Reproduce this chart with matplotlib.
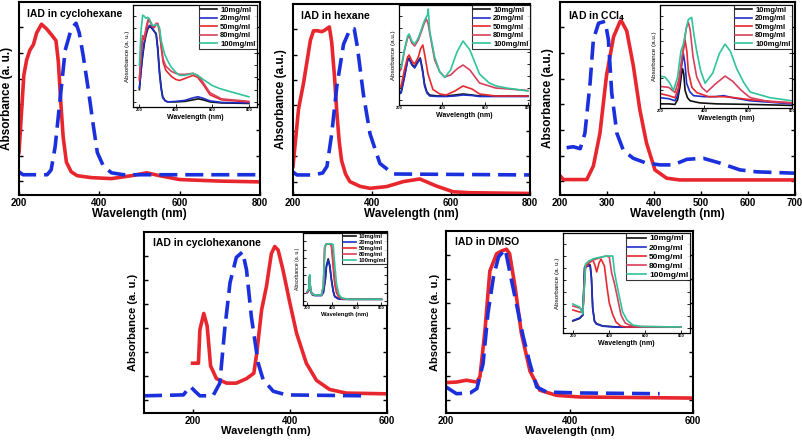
import numpy as np
import matplotlib
matplotlib.use("Agg")
import matplotlib.pyplot as plt

plt.rcParams['font.family'] = ['Liberation Sans', 'DejaVu Sans']
plt.rcParams['font.weight'] = 'bold'

W, H = 803, 440

# ---- main spectra (red: solid, blue: dashed), absorbance normalised ----
chx_red_x = [200, 206, 212, 219, 227, 236, 244, 256, 269, 281, 292, 298, 304, 310, 318, 330, 345, 380, 430, 480, 518, 550, 600, 700, 800]
chx_red_y = [0.22, 0.42, 0.62, 0.70, 0.75, 0.78, 0.84, 0.885, 0.86, 0.83, 0.80, 0.69, 0.48, 0.30, 0.17, 0.12, 0.10, 0.09, 0.085, 0.10, 0.115, 0.10, 0.08, 0.072, 0.068]
chx_blue_x = [200, 210, 270, 280, 290, 302, 315, 330, 342, 350, 360, 373, 385, 395, 410, 430, 460, 800]
chx_blue_y = [0.12, 0.105, 0.105, 0.13, 0.25, 0.49, 0.75, 0.86, 0.89, 0.84, 0.72, 0.54, 0.36, 0.22, 0.15, 0.115, 0.105, 0.105]

hex_red_x = [200, 214, 227, 244, 252, 262, 273, 282, 292, 298, 305, 311, 317, 323, 333, 344, 370, 395, 437, 479, 521, 563, 605, 647, 800]
hex_red_y = [0.15, 0.45, 0.59, 0.81, 0.86, 0.86, 0.855, 0.865, 0.88, 0.80, 0.62, 0.43, 0.28, 0.18, 0.11, 0.07, 0.045, 0.035, 0.044, 0.07, 0.084, 0.047, 0.017, 0.012, 0.008]
hex_blue_x = [200, 210, 250, 275, 286, 298, 311, 328, 345, 355, 363, 378, 395, 420, 454, 800]
hex_blue_y = [0.12, 0.105, 0.105, 0.115, 0.15, 0.32, 0.57, 0.79, 0.87, 0.87, 0.775, 0.53, 0.32, 0.165, 0.11, 0.105]

ccl_red_x = [200, 207, 257, 271, 285, 299, 314, 328, 331, 342, 356, 370, 384, 402, 427, 455, 700]
ccl_red_y = [0.10, 0.08, 0.08, 0.15, 0.32, 0.62, 0.82, 0.90, 0.90, 0.85, 0.67, 0.44, 0.27, 0.13, 0.087, 0.078, 0.078]
ccl_blue_x = [214, 228, 243, 253, 264, 271, 282, 296, 303, 310, 321, 335, 356, 384, 413, 441, 470, 505, 541, 583, 619, 700]
ccl_blue_y = [0.245, 0.25, 0.24, 0.32, 0.58, 0.805, 0.89, 0.90, 0.805, 0.53, 0.32, 0.23, 0.19, 0.165, 0.156, 0.156, 0.185, 0.19, 0.165, 0.13, 0.12, 0.113]

chn_red_x = [200, 212, 215, 223, 230, 237, 249, 270, 290, 311, 326, 332, 342, 352, 362, 369, 376, 386, 400, 414, 434, 455, 482, 516, 600]
chn_red_y = [0.275, 0.275, 0.46, 0.55, 0.48, 0.26, 0.19, 0.165, 0.165, 0.19, 0.22, 0.33, 0.57, 0.70, 0.88, 0.92, 0.90, 0.79, 0.61, 0.44, 0.275, 0.18, 0.13, 0.11, 0.106]
chn_blue_x = [100, 181, 195, 205, 215, 242, 256, 266, 277, 290, 303, 311, 321, 335, 345, 366, 393, 551]
chn_blue_y = [0.095, 0.10, 0.147, 0.12, 0.095, 0.095, 0.165, 0.46, 0.72, 0.86, 0.89, 0.79, 0.53, 0.275, 0.185, 0.12, 0.10, 0.095]

dmso_red_x = [200, 217, 233, 250, 255, 263, 271, 282, 290, 298, 303, 312, 322, 336, 352, 379, 417, 600]
dmso_red_y = [0.167, 0.17, 0.18, 0.17, 0.20, 0.45, 0.78, 0.875, 0.89, 0.90, 0.875, 0.69, 0.44, 0.23, 0.125, 0.097, 0.088, 0.082]
dmso_blue_x = [200, 217, 239, 250, 260, 268, 277, 285, 296, 303, 314, 325, 336, 347, 363, 417, 546]
dmso_blue_y = [0.143, 0.106, 0.11, 0.134, 0.27, 0.55, 0.75, 0.857, 0.90, 0.78, 0.60, 0.42, 0.27, 0.143, 0.115, 0.11, 0.106]

# ---- insets: concentration series ----
conc_labels = ['10mg/ml', '20mg/ml', '50mg/ml', '80mg/ml', '100mg/ml']
conc_colors = ['#111111', '#1f2fc8', '#e6282f', '#d8405c', '#2fc49c']

i1_x_a = [200, 209, 218, 227, 236, 245, 255, 264, 273, 282, 292, 301, 310, 319, 328, 342, 356, 400, 450, 494, 522, 550, 587, 650, 800]
i1_10 = [0.17, 0.35, 0.50, 0.62, 0.70, 0.76, 0.79, 0.78, 0.76, 0.74, 0.72, 0.58, 0.36, 0.20, 0.10, 0.06, 0.05, 0.05, 0.055, 0.07, 0.08, 0.07, 0.05, 0.04, 0.035]
i1_20 = [0.19, 0.36, 0.52, 0.64, 0.72, 0.77, 0.80, 0.79, 0.77, 0.74, 0.71, 0.55, 0.33, 0.18, 0.09, 0.06, 0.05, 0.055, 0.065, 0.09, 0.10, 0.085, 0.06, 0.045, 0.04]
i1_x_b = [200, 209, 218, 227, 236, 245, 251, 260, 270, 282, 292, 301, 310, 320, 330, 345, 375, 400, 420, 450, 494, 520, 550, 587, 650, 800]
i1_50 = [0.26, 0.50, 0.68, 0.66, 0.75, 0.82, 0.86, 0.83, 0.79, 0.78, 0.81, 0.81, 0.74, 0.58, 0.44, 0.36, 0.30, 0.27, 0.26, 0.28, 0.31, 0.29, 0.22, 0.12, 0.07, 0.05]
i1_80 = [0.28, 0.52, 0.70, 0.68, 0.77, 0.84, 0.87, 0.84, 0.80, 0.79, 0.82, 0.82, 0.76, 0.60, 0.47, 0.40, 0.35, 0.33, 0.32, 0.32, 0.33, 0.31, 0.24, 0.14, 0.08, 0.055]
i1_x_c = [200, 209, 218, 227, 236, 245, 255, 264, 273, 282, 292, 301, 310, 320, 338, 356, 375, 400, 420, 450, 494, 520, 550, 600, 642, 700, 800]
i1_100 = [0.41, 0.75, 0.90, 0.89, 0.87, 0.88, 0.86, 0.82, 0.80, 0.80, 0.81, 0.80, 0.78, 0.65, 0.52, 0.45, 0.39, 0.34, 0.31, 0.31, 0.33, 0.31, 0.27, 0.21, 0.18, 0.15, 0.10]

i2_x_a = [200, 210, 226, 240, 247, 260, 273, 286, 299, 310, 319, 330, 343, 380, 420, 460, 498, 540, 575, 650, 800]
i2_10 = [0.12, 0.13, 0.30, 0.45, 0.47, 0.41, 0.38, 0.43, 0.47, 0.35, 0.21, 0.13, 0.10, 0.09, 0.09, 0.10, 0.11, 0.10, 0.09, 0.09, 0.09]
i2_20 = [0.11, 0.12, 0.28, 0.44, 0.46, 0.40, 0.37, 0.42, 0.46, 0.33, 0.19, 0.12, 0.09, 0.085, 0.085, 0.09, 0.10, 0.095, 0.085, 0.085, 0.085]
i2_x_b = [200, 210, 226, 240, 247, 260, 273, 290, 300, 311, 320, 335, 358, 390, 420, 460, 498, 540, 575, 650, 800]
i2_50 = [0.17, 0.19, 0.36, 0.48, 0.50, 0.44, 0.41, 0.48, 0.56, 0.60, 0.50, 0.31, 0.155, 0.11, 0.10, 0.14, 0.19, 0.16, 0.11, 0.09, 0.09]
i2_x_c = [200, 210, 226, 240, 247, 260, 273, 290, 305, 318, 327, 335, 343, 366, 390, 413, 440, 470, 498, 530, 575, 650, 800]
i2_80 = [0.33, 0.36, 0.55, 0.67, 0.69, 0.62, 0.59, 0.65, 0.74, 0.82, 0.86, 0.82, 0.72, 0.45, 0.33, 0.28, 0.30, 0.36, 0.40, 0.35, 0.22, 0.17, 0.145]
i2_x_d = [200, 210, 226, 240, 247, 260, 273, 290, 305, 318, 327, 333, 336, 339, 343, 366, 390, 413, 440, 470, 498, 530, 575, 620, 653, 700, 800]
i2_100 = [0.36, 0.38, 0.56, 0.69, 0.71, 0.64, 0.61, 0.67, 0.76, 0.84, 0.88, 0.90, 0.96, 0.87, 0.74, 0.48, 0.33, 0.275, 0.35, 0.53, 0.64, 0.55, 0.31, 0.22, 0.19, 0.17, 0.14]

i3_x_10 = [200, 240, 268, 280, 291, 298, 303, 308, 314, 325, 337, 380, 458, 610, 800]
i3_10 = [0.04, 0.04, 0.035, 0.08, 0.21, 0.33, 0.38, 0.33, 0.17, 0.10, 0.07, 0.05, 0.04, 0.035, 0.025]
i3_x_20 = [200, 240, 268, 280, 295, 306, 314, 321, 335, 352, 400, 450, 489, 530, 610, 800]
i3_20 = [0.10, 0.09, 0.07, 0.12, 0.35, 0.53, 0.42, 0.24, 0.16, 0.12, 0.11, 0.11, 0.12, 0.10, 0.07, 0.04]
i3_x_50 = [200, 240, 268, 285, 300, 314, 322, 329, 345, 367, 420, 489, 540, 610, 800]
i3_50 = [0.14, 0.12, 0.10, 0.20, 0.48, 0.66, 0.55, 0.35, 0.20, 0.15, 0.11, 0.11, 0.10, 0.08, 0.05]
i3_x_80 = [200, 240, 268, 285, 305, 320, 329, 337, 350, 367, 390, 413, 450, 496, 530, 570, 610, 700, 800]
i3_80 = [0.21, 0.20, 0.15, 0.27, 0.56, 0.78, 0.83, 0.76, 0.50, 0.30, 0.20, 0.155, 0.23, 0.31, 0.26, 0.17, 0.10, 0.06, 0.05]
i3_x_100 = [200, 223, 245, 261, 280, 295, 306, 320, 329, 344, 355, 367, 385, 405, 440, 470, 496, 520, 549, 580, 610, 700, 800]
i3_100 = [0.31, 0.30, 0.24, 0.17, 0.30, 0.55, 0.62, 0.78, 0.86, 0.88, 0.70, 0.55, 0.36, 0.24, 0.34, 0.53, 0.62, 0.55, 0.38, 0.25, 0.155, 0.10, 0.07]

i4_x_a = [200, 212, 219, 226, 240, 260, 290, 314, 330, 345, 355, 369, 382, 395, 409, 422, 450, 478, 550, 800]
i4_10 = [0.18, 0.22, 0.39, 0.20, 0.15, 0.14, 0.14, 0.14, 0.18, 0.35, 0.55, 0.64, 0.55, 0.36, 0.20, 0.12, 0.09, 0.08, 0.08, 0.08]
i4_20 = [0.17, 0.21, 0.37, 0.19, 0.14, 0.13, 0.13, 0.13, 0.17, 0.34, 0.53, 0.62, 0.53, 0.35, 0.19, 0.115, 0.085, 0.08, 0.078, 0.078]
i4_x_b = [200, 212, 219, 226, 240, 260, 290, 314, 330, 341, 355, 380, 395, 405, 415, 425, 436, 455, 477, 531, 800]
i4_50 = [0.18, 0.22, 0.40, 0.20, 0.15, 0.14, 0.14, 0.14, 0.25, 0.80, 0.85, 0.85, 0.82, 0.62, 0.40, 0.26, 0.17, 0.11, 0.09, 0.08, 0.08]
i4_80 = [0.18, 0.22, 0.40, 0.20, 0.15, 0.14, 0.14, 0.14, 0.26, 0.81, 0.85, 0.85, 0.84, 0.70, 0.48, 0.31, 0.20, 0.12, 0.09, 0.08, 0.08]
i4_x_c = [200, 212, 219, 226, 240, 260, 290, 314, 330, 341, 355, 380, 395, 409, 420, 436, 455, 477, 531, 800]
i4_100 = [0.19, 0.23, 0.42, 0.21, 0.15, 0.14, 0.14, 0.14, 0.27, 0.82, 0.85, 0.85, 0.85, 0.84, 0.60, 0.30, 0.15, 0.10, 0.08, 0.08]

i5_x_a = [200, 237, 255, 265, 283, 296, 303, 310, 320, 330, 366, 450, 800]
i5_10 = [0.12, 0.145, 0.18, 0.66, 0.68, 0.68, 0.55, 0.25, 0.12, 0.095, 0.07, 0.06, 0.06]
i5_20 = [0.125, 0.15, 0.18, 0.65, 0.67, 0.67, 0.54, 0.24, 0.115, 0.09, 0.068, 0.058, 0.058]
i5_x_50 = [200, 237, 255, 270, 290, 310, 322, 332, 345, 356, 375, 390, 402, 420, 439, 465, 494, 800]
i5_50 = [0.23, 0.21, 0.21, 0.66, 0.70, 0.73, 0.68, 0.61, 0.70, 0.74, 0.67, 0.45, 0.30, 0.19, 0.11, 0.07, 0.06, 0.06]
i5_x_80 = [200, 237, 255, 270, 290, 310, 330, 360, 385, 402, 415, 430, 450, 467, 490, 513, 550, 800]
i5_80 = [0.27, 0.25, 0.23, 0.68, 0.72, 0.73, 0.74, 0.76, 0.77, 0.76, 0.60, 0.50, 0.33, 0.18, 0.10, 0.08, 0.065, 0.06]
i5_x_100 = [200, 237, 255, 270, 290, 310, 330, 360, 390, 421, 430, 439, 456, 476, 500, 532, 580, 800]
i5_100 = [0.29, 0.26, 0.19, 0.69, 0.72, 0.74, 0.75, 0.76, 0.77, 0.77, 0.62, 0.53, 0.38, 0.21, 0.13, 0.08, 0.065, 0.06]


def px_rect(x0, y0, x1, y1):
    return [x0 / W, 1 - y1 / H, (x1 - x0) / W, (y1 - y0) / H]


def main_panel(fig, box, xlim, xstep, title, ylabel, red, blue, fs=8.5):
    ax = fig.add_axes(px_rect(*box))
    ax.plot(red[0], red[1], color='#e8262e', lw=2.6, solid_joinstyle='round')
    ax.plot(blue[0], blue[1], color='#1a30dc', lw=2.6, ls=(0, (5, 2.2)))
    ax.set_xlim(*xlim)
    ax.set_ylim(0, 1)
    ax.set_xticks(np.arange(200, xlim[1] + 1, xstep))
    ax.set_yticks(np.arange(0.07, 1.0, 0.133))
    ax.set_yticklabels([])
    ax.tick_params(direction='in', top=False, right=True, length=3, width=1,
                   labelsize=7, pad=2)
    for t in ax.get_xticklabels():
        t.set_fontweight('bold')
    for s in ax.spines.values():
        s.set_linewidth(1.5)
    ax.set_xlabel('Wavelength (nm)', fontsize=fs, fontweight='bold', labelpad=0)
    ax.set_ylabel(ylabel, fontsize=fs, fontweight='bold', labelpad=2)
    ax.text(0.035, 0.965, title, transform=ax.transAxes, va='top', ha='left',
            fontsize=7.5, fontweight='bold')
    return ax


def inset(fig, box, xlim, series, ylabel, lfs=5.5, afs=5.0):
    ax = fig.add_axes(px_rect(*box))
    for (xs, ys), lab, col in zip(series, conc_labels, conc_colors):
        ax.plot(xs, ys, color=col, lw=1.2, label=lab)
    ax.set_xlim(*xlim)
    ax.set_ylim(0, 1)
    ax.set_xticks([200, 400, 600, 800])
    ax.set_yticks(np.arange(0.05, 1.0, 0.12))
    ax.set_yticklabels([])
    ax.tick_params(direction='in', right=True, length=2, width=0.6,
                   labelsize=3, pad=1)
    for s in ax.spines.values():
        s.set_linewidth(0.9)
    ax.set_xlabel('Wavelength (nm)', fontsize=afs, fontweight='bold', labelpad=1)
    ax.set_ylabel(ylabel, fontsize=afs - 0.5, labelpad=1, fontweight='normal')
    leg = ax.legend(loc='upper right', bbox_to_anchor=(1.0, 1.0),
                    borderaxespad=0, fontsize=lfs, frameon=True, fancybox=False,
                    edgecolor='black', handlelength=2.2, handletextpad=0.4,
                    labelspacing=0.15, borderpad=0.2)
    leg.get_frame().set_linewidth(0.8)
    for t in leg.get_texts():
        t.set_fontweight('bold')
    return ax


fig = plt.figure(figsize=(W / 100, H / 100), dpi=100)

main_panel(fig, (19, 2, 260, 195), (200, 800), 200, 'IAD in cyclohexane',
           'Absorbance (a. u.)', (chx_red_x, chx_red_y), (chx_blue_x, chx_blue_y))
inset(fig, (133, 5, 257, 107), (165, 845),
      [(i1_x_a, i1_10), (i1_x_a, i1_20), (i1_x_b, i1_50), (i1_x_b, i1_80), (i1_x_c, i1_100)],
      'Absorbance (a. u.)')

main_panel(fig, (293, 4, 530, 195), (200, 800), 200, 'IAD in hexane',
           'Absorbance (a.u.)', (hex_red_x, hex_red_y), (hex_blue_x, hex_blue_y))
inset(fig, (399, 5, 530, 105), (200, 810),
      [(i2_x_a, i2_10), (i2_x_a, i2_20), (i2_x_b, i2_50), (i2_x_c, i2_80), (i2_x_d, i2_100)],
      'Absorbance (a.u.)')

main_panel(fig, (560, 2, 795, 195), (200, 700), 100, 'IAD in CCl$_\\mathbf{4}$',
           'Absorbance (a.u.)', (ccl_red_x, ccl_red_y), (ccl_blue_x, ccl_blue_y))
inset(fig, (660, 5, 792, 108), (200, 800),
      [(i3_x_10, i3_10), (i3_x_20, i3_20), (i3_x_50, i3_50), (i3_x_80, i3_80), (i3_x_100, i3_100)],
      'Absorbance (a.u.)')

main_panel(fig, (144, 232, 387, 413), (100, 600), 200, 'IAD in cyclohexanone',
           'Absorbance (a. u.)', (chn_red_x, chn_red_y), (chn_blue_x, chn_blue_y), fs=8)
inset(fig, (303, 233, 387, 305), (165, 845),
      [(i4_x_a, i4_10), (i4_x_a, i4_20), (i4_x_b, i4_50), (i4_x_b, i4_80), (i4_x_c, i4_100)],
      'Absorbance (a. u.)', lfs=4.2, afs=4.2)

main_panel(fig, (446, 231, 693, 413), (200, 600), 200, 'IAD in DMSO',
           'Absorbance (a. u.)', (dmso_red_x, dmso_red_y), (dmso_blue_x, dmso_blue_y), fs=8)
inset(fig, (563, 233, 690, 333), (145, 850),
      [(i5_x_a, i5_10), (i5_x_a, i5_20), (i5_x_50, i5_50), (i5_x_80, i5_80), (i5_x_100, i5_100)],
      'Absorbance (a. u.)', lfs=6, afs=5.0)

fig.savefig('out.png', dpi=100)
